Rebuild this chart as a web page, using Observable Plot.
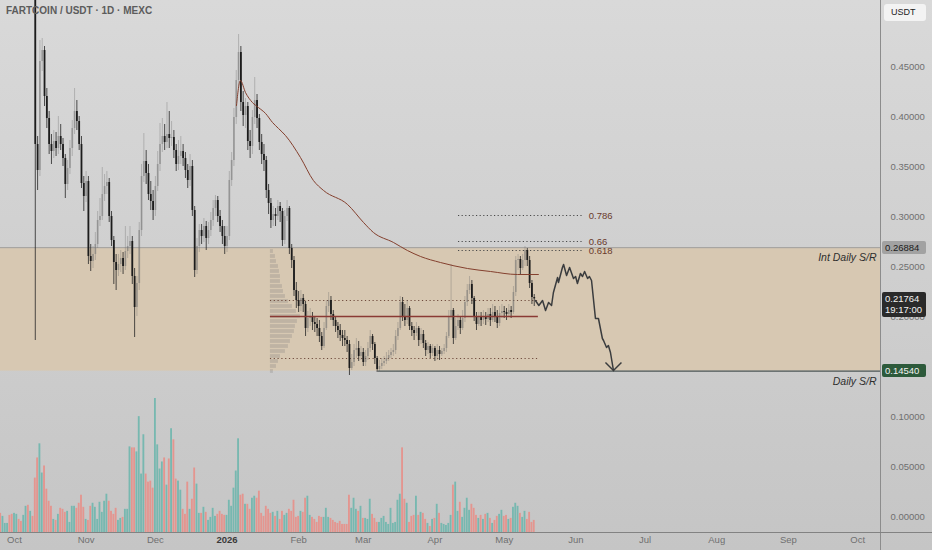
<!DOCTYPE html>
<html><head><meta charset="utf-8">
<script src="https://cdn.jsdelivr.net/npm/d3@7"></script>
<script src="https://cdn.jsdelivr.net/npm/@observablehq/plot@0.6"></script>
<style>
html,body{margin:0;padding:0;}
body{width:932px;height:550px;overflow:hidden;background:linear-gradient(#d9d9d9,#c5c5c5);font-family:"Liberation Sans",Arial,sans-serif;}
#wrap{position:relative;width:932px;height:550px;}
#wrap svg{position:absolute;left:0;top:0;}
.title{position:absolute;left:6px;top:5px;font-size:10px;color:#5c5c5c;font-weight:bold;}
.box{position:absolute;left:882px;width:44px;font-size:9.5px;line-height:13px;padding-left:3px;box-sizing:border-box;border-radius:2px;}
.vline{position:absolute;left:880px;top:0;width:1px;height:550px;background:#8c8c8c;}
.hline{position:absolute;left:0;top:532px;width:932px;height:1px;background:#828282;}
.usdt{position:absolute;left:884px;top:4px;width:42px;height:17px;background:#f3f3f3;border-radius:3px;font-size:9px;line-height:17px;color:#222;padding-left:7px;box-sizing:border-box;}
</style></head><body><div id="wrap"></div>
<script>
// ---------------- data ----------------
const startDate = "2025-09-25";
const firstOpen = 0.700;
const closes = [
.690,.700,.712,.720,.705,.695,.705,.715,.700,.690,.700,.712,.700,.708,.660,
.372,.346,.455,.466,.420,.398,.372,.365,.375,.368,
.380,.372,.358,.332,.348,.368,.388,.405,.395,.372,
.333,.320,.335,.260,.255,.262,.272,.296,.300,.322,
.330,.334,.300,.276,.254,.246,.252,.258,.250,.265,
.270,.275,.240,.209,.233,.286,.340,.355,.343,.322,
.315,.306,.330,.352,.372,.380,.374,.382,.378,.379,
.366,.352,.360,.365,.358,.346,.336,.350,.306,.246,
.270,.286,.280,.290,.278,.286,.296,.308,.316,.300,
.290,.280,.270,.280,.336,.356,.399,.436,.464,.414,
.401,.410,.375,.370,.399,.416,.398,.374,.362,.356,
.326,.313,.296,.302,.300,.310,.305,.276,.300,.308,
.268,.256,.226,.216,.210,.218,.212,.188,.198,.200,
.194,.192,.188,.180,.170,.188,.210,.216,.202,.196,
.190,.186,.181,.178,.176,.172,.148,.154,.166,.168,
.160,.164,.154,.160,.168,.180,.172,.158,.147,.150,
.153,.155,.158,.161,.164,.166,.180,.188,.214,.200,
.196,.208,.190,.186,.183,.188,.176,.182,.173,.166,
.170,.163,.168,.160,.166,.162,.165,.168,.180,.200,
.206,.178,.190,.196,.188,.198,.214,.226,.232,.218,
.200,.192,.200,.196,.200,.197,.202,.196,.204,.200,
.193,.203,.205,.204,.202,.206,.204,.224,.256,.257,
.248,.256,.266,.256,.233,.219,.2176];
const highs = [
.705,.712,.722,.735,.728,.712,.716,.728,.722,.705,.712,.724,.716,.720,.712,
.672,.380,.476,.478,.470,.428,.405,.382,.386,.384,
.400,.392,.378,.362,.356,.376,.396,.428,.416,.400,
.380,.340,.345,.340,.272,.270,.284,.305,.318,.349,
.342,.345,.338,.305,.280,.262,.262,.266,.264,.290,
.280,.290,.280,.248,.240,.294,.352,.383,.366,.352,
.335,.326,.340,.365,.393,.398,.392,.414,.405,.395,
.386,.372,.376,.380,.372,.364,.352,.362,.356,.310,
.278,.292,.292,.298,.295,.294,.304,.316,.321,.320,
.306,.296,.290,.290,.345,.364,.408,.446,.482,.470,
.425,.418,.414,.386,.406,.439,.422,.402,.382,.372,
.360,.332,.318,.310,.308,.316,.314,.308,.306,.316,
.310,.272,.260,.234,.225,.226,.222,.215,.205,.208,
.204,.200,.198,.196,.184,.194,.216,.224,.220,.206,
.200,.194,.192,.186,.186,.180,.176,.162,.172,.178,
.175,.170,.168,.166,.174,.186,.182,.174,.160,.156,
.158,.160,.164,.166,.168,.172,.186,.194,.220,.219,
.212,.216,.210,.194,.190,.194,.190,.188,.186,.176,
.174,.172,.172,.170,.172,.170,.168,.172,.184,.206,
.252,.208,.198,.202,.200,.206,.220,.232,.240,.236,
.220,.204,.204,.204,.206,.204,.208,.208,.212,.210,
.206,.210,.212,.210,.208,.212,.210,.230,.260,.262,
.260,.262,.270,.268,.260,.236,.222];
const lows = [
.676,.684,.695,.705,.696,.682,.690,.700,.690,.678,.686,.698,.690,.694,.650,
.176,.326,.340,.445,.410,.388,.362,.352,.358,.360,
.362,.366,.350,.318,.326,.342,.360,.382,.386,.366,
.328,.305,.314,.252,.245,.248,.256,.268,.290,.296,
.315,.322,.294,.270,.232,.226,.240,.244,.242,.246,
.258,.262,.232,.179,.200,.226,.280,.334,.332,.316,
.306,.296,.300,.325,.345,.364,.366,.368,.368,.370,
.358,.345,.346,.352,.350,.338,.328,.330,.300,.239,
.242,.264,.272,.274,.266,.272,.280,.290,.300,.294,
.284,.272,.262,.264,.276,.330,.350,.392,.428,.405,
.390,.388,.366,.358,.362,.392,.388,.366,.352,.345,
.318,.302,.288,.290,.290,.296,.294,.270,.272,.295,
.262,.248,.220,.208,.204,.205,.204,.180,.184,.190,
.186,.184,.180,.174,.166,.168,.186,.204,.196,.190,
.184,.178,.175,.170,.170,.164,.141,.146,.150,.158,
.155,.156,.150,.150,.156,.164,.166,.152,.144,.145,
.147,.150,.152,.155,.158,.160,.162,.176,.186,.195,
.190,.192,.186,.180,.176,.180,.170,.172,.168,.160,
.162,.158,.160,.155,.156,.156,.160,.162,.164,.178,
.196,.172,.176,.186,.182,.186,.194,.210,.222,.212,
.195,.186,.190,.190,.192,.191,.194,.190,.194,.194,
.188,.190,.198,.198,.196,.200,.198,.202,.220,.246,
.242,.246,.250,.250,.228,.212,.210];
const volumes = [
19,16,9,9,17,18,19,18,13,11,
17,26,27,21,16,54,74,88,59,66,
43,31,26,13,12,18,24,23,20,21,
10,26,26,24,29,37,25,13,12,26,
29,25,13,30,20,31,38,31,21,18,
24,12,14,15,23,23,85,84,84,80,
115,58,97,58,50,51,44,133,87,63,
70,74,47,73,103,92,53,51,42,23,
18,50,23,33,64,48,19,19,25,20,
12,15,24,16,18,21,18,17,17,32,
26,44,61,93,37,38,28,28,23,34,
36,34,41,19,16,26,23,19,20,16,
21,13,21,17,19,23,21,32,15,16,
21,20,34,36,17,15,13,10,16,15,
15,24,15,14,12,10,9,11,8,8,
8,37,24,34,23,21,26,14,14,13,
33,18,14,10,10,14,16,10,8,24,
9,10,32,38,84,33,29,10,16,17,
36,17,20,19,13,9,6,13,14,28,
19,9,8,7,9,17,47,50,21,30,
15,24,34,22,28,24,17,14,17,13,
18,19,14,9,12,16,18,22,16,17,
13,14,25,29,26,19,15,21,13,20,
10,12];

// EMA line (days since 2025-10-01, price)
const emaDay   = [96.1,97.8,100.0,103.0,105.6,108.7,111.7,114.3,117.3,123.8,129.4,133.8,144.2,151.1,155.4,164.1,170.1,175.8,184.4,196.1,206.1,217.7,226.8];
const emaPrice = [0.411,0.436,0.424,0.414,0.409,0.403,0.394,0.388,0.381,0.359,0.336,0.326,0.312,0.294,0.284,0.274,0.266,0.260,0.254,0.248,0.245,0.242,0.242];

// projected path (days since 2025-10-01, price)
const projDay   = [225.5,227.0,228.6,229.9,231.2,232.5,233.3,235.1,235.5,237.2,237.7,239.0,240.3,242.0,242.9,243.7,245.0,245.9,246.8,248.1,248.9,249.8,251.5,252.8,254.5,255.0,256.3,257.1,258.0,259.3];
const projPrice = [0.216,0.211,0.216,0.206,0.214,0.211,0.224,0.239,0.234,0.249,0.252,0.241,0.249,0.238,0.240,0.233,0.243,0.240,0.245,0.238,0.240,0.236,0.198,0.198,0.178,0.176,0.169,0.171,0.164,0.146];

// volume profile
const profilePrice = [0.265,0.260,0.255,0.250,0.245,0.240,0.235,0.230,0.225,0.220,0.215,0.210,0.205,0.200,0.195,0.190,0.185,0.180,0.175,0.170,0.165,0.160,0.155,0.150,0.145];
const profileVol   = [3,5,6,8,9,10,10,12,13,15,18,22,26,30,27,25,24,22,20,18,15,10,8,6,3];
const profileRange = ["2026-01-19T19:00Z","2026-05-15T19:00Z"];
const pocPrice = 0.200, vahPrice = 0.216, valPrice = 0.158;

// levels
const zoneLow = 0.1454, zoneHigh = 0.26884;
const lastPrice = 0.21764, lastTime = "19:17:00";
const dailySRStart = "2026-03-07T14:00Z";
const fibLevels = [0.786, 0.66, 0.618];
const fibPrices = [0.301, 0.275, 0.266];
const fibRange = ["2026-04-11T05:00Z","2026-06-04T00:00Z"];
const fibLabelDate = "2026-06-06T14:00Z";

const yTicks = [0,0.05,0.10,0.15,0.20,0.25,0.30,0.35,0.40,0.45];
const monthNames = ["Jan","Feb","Mar","Apr","May","Jun","Jul","Aug","Sep","Oct","Nov","Dec"];

// ---------------- build ----------------
const DAY = 864e5;
const t0 = Date.parse(startDate + "T00:00Z");
const ref = Date.parse("2025-10-01T00:00Z");
const fromDay = d => new Date(ref + d * DAY);
const candles = closes.map((c, i) => {
  const open = i ? closes[i - 1] : firstOpen;
  return {date: new Date(t0 + i * DAY), open, close: c, high: highs[i], low: lows[i], volume: volumes[i], up: c >= open};
});
const xDomain = [fromDay(-6.06), fromDay(374.9)];
const months = d3.utcMonth.range(new Date(ref), fromDay(370));

const upCol = "rgba(110,110,110,0.45)", dnCol = "#1c1c1c";
const ema = emaDay.map((d, i) => ({date: fromDay(d), v: emaPrice[i]}));
const proj = projDay.map((d, i) => ({date: fromDay(d), v: projPrice[i]}));
const pStart = Date.parse(profileRange[0]), pEnd = Date.parse(profileRange[1]);
const pMax = d3.max(profileVol);
const profile = profilePrice.map((p, i) => ({
  y1: p - 0.0025, y2: p + 0.0025,
  x1: new Date(pStart), x2: new Date(pStart + (pEnd - pStart) * 0.112 * profileVol[i] / pMax)
}));
const fib = fibPrices.map((p, i) => ({p, label: String(fibLevels[i])}));

const common = {width: 932, height: 550, marginLeft: 0, marginRight: 52, marginTop: 0, marginBottom: 18,
  style: {background: "transparent", fontFamily: "Liberation Sans, Arial, sans-serif", overflow: "visible"}};

const volPlot = Plot.plot({...common,
  x: {type: "utc", domain: xDomain, axis: null},
  y: {domain: [0, 528], axis: null},
  marks: [
    Plot.rectY(candles, {x1: d => new Date(+d.date - 0.4 * DAY), x2: d => new Date(+d.date + 0.4 * DAY), y: "volume",
      fill: d => d.up ? "#77b8b0" : "#e4958f", clip: true})
  ]
});

const vShape = {draw(ctx, size) { const r = Math.sqrt(size / Math.PI); ctx.moveTo(-r, -r); ctx.lineTo(0, 0); ctx.lineTo(r, -r); }};

const main = Plot.plot({...common,
  x: {type: "utc", domain: xDomain, axis: null},
  y: {domain: [-0.016, 0.516], axis: null},
  marks: [
    Plot.rect([0], {x1: () => xDomain[0], x2: () => xDomain[1], y1: () => zoneLow, y2: () => zoneHigh, fill: "#d7c8b2"}),
    Plot.ruleY([zoneHigh], {stroke: "#9e9e9e", strokeWidth: 1}),
    Plot.rect(profile, {x1: "x1", x2: "x2", y1: "y1", y2: "y2", fill: "rgba(140,138,135,0.32)", insetTop: 0.6, insetBottom: 0.6}),
    Plot.ruleY([vahPrice, valPrice], {x1: () => new Date(pStart), x2: () => new Date(pEnd), stroke: "#6e4a3c", strokeDasharray: "1.2,2.6", strokeWidth: 1}),
    Plot.ruleY(fib, {y: "p", x1: () => new Date(Date.parse(fibRange[0])), x2: () => new Date(Date.parse(fibRange[1])), stroke: "#4a4a4a", strokeDasharray: "1.2,2.4", strokeWidth: 1}),
    Plot.text(fib, {y: "p", x: () => new Date(Date.parse(fibLabelDate)), text: "label", textAnchor: "start", fontSize: 9.5, fill: "#6a3a2c"}),
    Plot.ruleX(candles, {x: "date", y1: "low", y2: "high", stroke: d => d.up ? upCol : "#262626", strokeWidth: 0.8, clip: true}),
    Plot.ruleX(candles, {x: "date", y1: "open", y2: "close", stroke: d => d.up ? upCol : dnCol, strokeWidth: 1.8, clip: true}),
    Plot.ruleY([pocPrice], {x1: () => new Date(pStart), x2: () => new Date(pEnd), stroke: "#8a3a34", strokeWidth: 1.4}),
    Plot.line(ema, {x: "date", y: "v", stroke: "#84402e", strokeWidth: 1, curve: "monotone-x"}),
    Plot.ruleY([zoneLow], {x1: () => new Date(Date.parse(dailySRStart)), x2: () => xDomain[1], stroke: "#4d5656", strokeWidth: 1.3}),
    Plot.line(proj, {x: "date", y: "v", stroke: "#3a3c3e", strokeWidth: 1.5}),
    Plot.dot(proj.slice(-1), {x: "date", y: "v", r: 8, symbol: vShape, stroke: "#3a3c3e", strokeWidth: 1.5, fill: "none"}),
    Plot.text(["Int Daily S/R"], {y: () => zoneHigh, frameAnchor: "right", text: d => d, textAnchor: "end", dx: -4, dy: 9.5, fontSize: 10.5, fontStyle: "italic", fill: "#2e2e2e"}),
    Plot.text(["Daily S/R"], {y: () => zoneLow, frameAnchor: "right", text: d => d, textAnchor: "end", dx: -4, dy: 10.5, fontSize: 10.5, fontStyle: "italic", fill: "#2e2e2e"}),
    Plot.axisY(yTicks, {anchor: "right", tickSize: 0, tickPadding: 10, tickFormat: d => d.toFixed(5), fontSize: 9.5, color: "#6f6f6f"}),
    Plot.text(months.filter(m => m.getUTCMonth() !== 0), {x: d => d, text: d => monthNames[d.getUTCMonth()], frameAnchor: "bottom", dy: 10, fontSize: 9.5, fill: "#707070"}),
    Plot.text(months.filter(m => m.getUTCMonth() === 0), {x: d => d, text: d => String(d.getUTCFullYear()), frameAnchor: "bottom", dy: 10, fontSize: 9.5, fontWeight: "bold", fill: "#3a3a3a"})
  ]
});

const wrap = document.getElementById("wrap");
wrap.appendChild(volPlot);
wrap.appendChild(main);
const ys = main.scale("y");
function addDiv(cls, html, style) { const d = document.createElement("div"); d.className = cls; d.innerHTML = html; Object.assign(d.style, style || {}); wrap.appendChild(d); return d; }
addDiv("vline", "");
addDiv("hline", "");
addDiv("title", "FARTCOIN / USDT · 1D · MEXC");
addDiv("usdt", "USDT");
addDiv("box", zoneHigh.toFixed(5), {top: (ys.apply(zoneHigh) - 6.5) + "px", height: "13px", background: "#a2a2a2", color: "#1c1c1c"});
addDiv("box", lastPrice.toFixed(5) + "<br>" + lastTime, {top: (ys.apply(lastPrice) - 6.5) + "px", height: "25px", lineHeight: "11.5px", paddingTop: "1px", background: "#2a2a2a", color: "#f2f2f2"});
addDiv("box", zoneLow.toFixed(5), {top: (ys.apply(zoneLow) - 6.5) + "px", height: "13px", background: "#2d5a3b", color: "#f2f2f2"});
</script></body></html>
